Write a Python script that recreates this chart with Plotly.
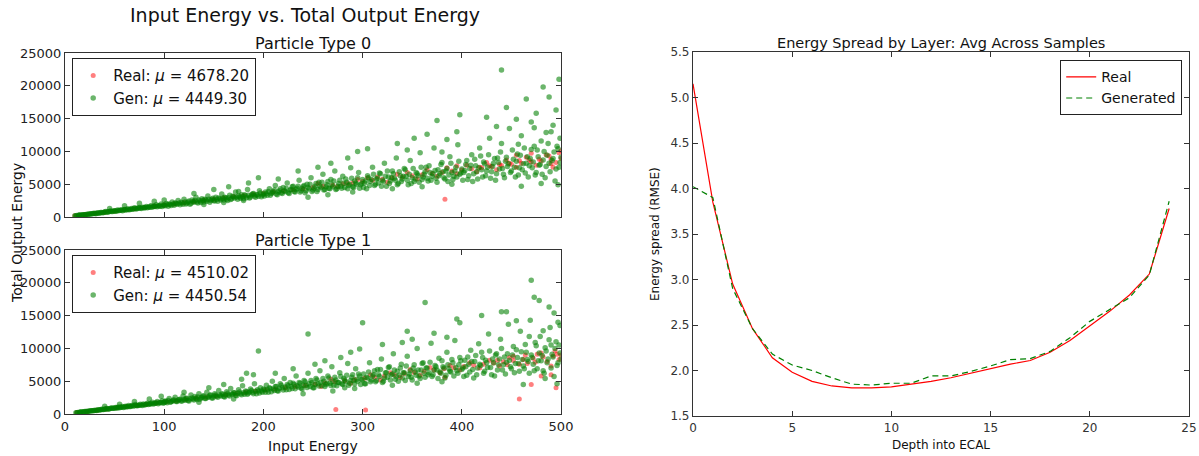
import plotly.graph_objects as go

# ---------------- data ----------------
real0_pts = [(10,180),(20,360),(30,540),(40,720),(50,900),(60,1090),(70,1270),(80,1450),(90,1640),(100,1820),
(110,2000),(120,2180),(130,2350),(140,2540),(150,2700),(160,2900),(170,3070),(180,3250),(190,3420),(200,3600),
(210,3800),(220,3950),(230,4150),(240,4300),(250,4500),(260,4700),(270,4850),(280,5050),(290,5200),(300,5400),
(310,5600),(320,5750),(330,5950),(340,6100),(350,6300),(360,6450),(370,6650),(380,6800),(390,7000),(400,7150),
(410,7350),(420,7500),(430,7700),(440,7850),(450,8050),(460,8200),(470,8400),(480,8550),(490,8750),(500,8900),
(255,5100),(275,4600),(305,6000),(325,5300),(345,6800),(355,5800),(365,7200),(375,6200),(385,7500),(395,6600),
(405,7900),(415,6900),(425,8300),(435,7200),(445,8700),(455,7600),(465,9100),(475,7900),(485,9500),(495,8300),
(498,9800),(492,7600),(488,9300),(478,8800),(468,8700),(458,8600),(448,8200),(438,8000),(428,7800),(418,7600),
(383,2700),(395,7800),(455,9400),(470,9700),(500,10100),(490,8100),(335,6500),(315,6100),(295,5700),(285,5100)]

gen0_pts = [(10,180),(12,230),(14,250),(15,290),(17,300),(18,340),(20,360),(22,410),(23,390),(25,470),(27,480),
(28,520),(30,560),(31,510),(33,640),(35,620),(36,700),(38,660),(40,750),(41,820),(43,760),(45,830),(46,900),
(48,850),(50,960),(52,880),(53,1050),(55,990),(57,1100),(58,950),(60,1150),(62,1080),(63,1250),(65,1120),
(67,1300),(68,1180),(70,1400),(72,1230),(73,1320),(75,1450),(77,1280),(78,1500),(80,1380),(82,1600),(83,1420),
(85,1520),(87,1750),(88,1480),(90,1620),(92,1850),(93,1550),(95,1700),(97,1980),(98,1600),(100,1780),
(45,1300),(60,1700),(75,2100),(90,2400),(100,2600),
(102,2050),(104,1650),(106,1900),(108,2300),(110,1800),(112,2050),(114,2500),(116,1850),(118,2150),(120,2700),
(122,2000),(124,2300),(126,1950),(128,2600),(130,2250),(132,3000),(134,2150),(136,2450),(138,2800),(140,2300),
(142,2600),(144,3200),(146,2250),(148,2700),(150,2500),(152,3000),(154,2400),(156,2800),(158,3500),(160,2600),
(162,2950),(164,2500),(166,3300),(168,2800),(170,3100),(172,3800),(174,2700),(176,3050),(178,3400),(180,2800),
(182,3250),(184,4200),(186,2900),(188,3350),(190,3600),(192,3000),(194,3400),(196,4000),(198,3100),(200,3500),
(130,3600),(150,4200),(165,4600),(185,5200),(195,6000),(175,3900),(140,1900),(160,2200),(180,2500),
(202,3800),(204,3300),(206,4300),(208,3600),(210,3900),(212,4800),(214,3400),(216,4000),(218,3700),(220,4500),
(222,3900),(224,5200),(226,3600),(228,4200),(230,4700),(232,3800),(234,4400),(236,5600),(238,4000),(240,4600),
(242,3700),(244,5000),(246,4300),(248,6000),(250,4100),(252,4700),(254,3900),(256,5300),(258,4500),(260,6500),
(262,4200),(264,4900),(266,4400),(268,5700),(270,4600),(272,7000),(274,4300),(276,5100),(278,4700),(280,6200),
(282,4500),(284,5300),(286,4800),(288,7500),(290,4600),(292,5500),(294,5000),(296,6800),(298,4900),(300,5700),
(215,5800),(235,7000),(255,7600),(268,8200),(285,9000),(295,10000),(305,10400),(245,3000),(265,3400),(290,3800),
(302,5200),(304,4300),(306,6000),(308,5400),(310,7600),(312,4800),(314,5800),(316,5200),(318,6600),(320,5600),
(322,8200),(324,4700),(326,6100),(328,5500),(330,7000),(332,5900),(334,9000),(336,5100),(338,6300),(340,5800),
(342,7400),(344,6200),(346,4900),(348,8600),(350,6000),(352,5400),(354,6800),(356,6300),(358,9800),(360,5700),
(362,6500),(364,7600),(366,5500),(368,6800),(370,6200),(372,10500),(374,5900),(376,7200),(378,6600),(380,8300),
(382,6000),(384,7000),(386,5400),(388,9200),(390,6800),(392,6200),(394,7600),(396,11000),(398,6500),(400,7300),
(335,11200),(352,12000),(365,12600),(375,14700),(385,11800),(395,13000),(345,10200),(330,4300),(360,4600),
(390,5000),(380,9900),(398,15600),
(402,6800),(404,8000),(406,5700),(408,7400),(410,9500),(412,6600),(414,7800),(416,5800),(418,10500),(420,7200),
(422,8400),(424,6300),(426,7600),(428,12000),(430,6900),(432,8200),(434,5600),(436,9000),(438,7300),(440,11200),
(442,6500),(444,8500),(446,7700),(448,13500),(450,7000),(452,8800),(454,6100),(456,9600),(458,7500),(460,12400),
(462,8100),(464,6700),(466,9200),(468,7800),(470,14500),(472,8400),(474,6400),(476,10200),(478,7900),(480,11600),
(482,8700),(484,6000),(486,9400),(488,8200),(490,13000),(492,8900),(494,5500),(496,10800),(498,7600),(500,9100),
(440,22400),(425,15200),(445,16700),(455,14900),(465,18000),(475,15800),(482,19800),(488,18300),(492,14000),
(495,16300),(498,21000),(435,13800),(460,4700),(480,5100),(497,4900),(470,10300),(485,12900),(499,12000),
(473,13600),(457,11100)]

gen0_core = [(11,170),(14,270),(16,260),(19,350),(21,350),(24,440),(26,450),(29,540),(32,560),(34,590),(37,680),
(39,700),(42,740),(44,810),(47,820),(49,900),(51,920),(54,980),(56,1040),(59,1060),(61,1100),(64,1160),(66,1200),
(69,1230),(71,1280),(74,1360),(76,1340),(79,1440),(81,1460),(84,1540),(86,1500),(89,1640),(91,1600),(94,1720),
(96,1650),(99,1820),
(101,1700),(103,1900),(105,2000),(107,1750),(109,2000),(111,2150),(113,1950),(115,2100),(117,2250),(119,1950),
(121,2300),(123,2150),(125,2450),(127,2100),(129,2350),(131,2500),(133,2300),(135,2600),(137,2200),(139,2550),
(141,2700),(143,2400),(145,2700),(147,2500),(149,2850),(151,2450),(153,2700),(155,2900),(157,2600),(159,2850),
(161,3000),(163,2700),(165,2950),(167,2650),(169,3150),(171,2900),(173,3050),(175,3200),(177,2850),(179,3100),
(181,3400),(183,2950),(185,3300),(187,3050),(189,3500),(191,3200),(193,3400),(195,3150),(197,3650),(199,3350),
(201,3200),(203,3600),(205,3900),(207,3300),(209,3700),(211,4100),(213,3500),(215,3800),(217,4300),(219,3600),
(221,4000),(223,4400),(225,3700),(227,4100),(229,4600),(231,3900),(233,4200),(235,4700),(237,3800),(239,4300),
(241,4800),(243,4000),(245,4500),(247,5000),(249,3900),(251,4400),(253,5100),(255,4200),(257,4700),(259,5300),
(261,4100),(263,4600),(265,5400),(267,4300),(269,4900),(271,5500),(273,4200),(275,4700),(277,5600),(279,4400),
(281,5100),(283,5800),(285,4300),(287,5000),(289,5900),(291,4500),(293,5200),(295,6000),(297,4400),(299,5100),
(301,4500),(303,5500),(305,6300),(307,4800),(309,5700),(311,6500),(313,5000),(315,5900),(317,6700),(319,4700),
(321,5400),(323,6200),(325,7000),(327,5100),(329,6000),(331,6600),(333,5600),(335,4900),(337,6900),(339,5400),
(341,6200),(343,7200),(345,5600),(347,6500),(349,5100),(351,7400),(353,5800),(355,6600),(357,5300),(359,7600),
(361,6100),(363,6900),(365,5900),(367,7800),(369,5600),(371,6600),(373,7100),(375,5300),(377,6300),(379,8000),
(381,6900),(383,5800),(385,7400),(387,6400),(389,8200),(391,5700),(393,7000),(395,6100),(397,8500),(399,6700),
(401,5600),(403,7100),(405,8600),(407,6300),(409,7900),(411,5400),(413,8800),(415,6900),(417,7500),(419,9300),
(421,6100),(423,8100),(425,7000),(427,9500),(429,5900),(431,7700),(433,8900),(435,6600),(437,8300),(439,9900),
(441,7400),(443,6000),(445,9100),(447,8100),(449,6800),(451,10200),(453,7600),(455,8500),(457,6400),(459,9400),
(461,7200),(463,10500),(465,8200),(467,6100),(469,8900),(471,7500),(473,10800),(475,6800),(477,9200),(479,8000),
(481,6500),(483,10000),(485,7700),(487,11200),(489,6900),(491,8600),(493,9900),(495,7300),(497,10400),(499,8300)]

real1_pts = [(12,210),(22,400),(32,580),(42,760),(52,940),(62,1130),(72,1300),(82,1480),(92,1670),(102,1850),
(112,2030),(122,2200),(132,2390),(142,2560),(152,2740),(162,2920),(172,3100),(182,3280),(192,3450),(202,3650),
(212,3830),(222,4000),(232,4180),(242,4360),(252,4540),(262,4720),(272,4900),(282,5080),(292,5260),(302,5440),
(312,5620),(322,5800),(332,5980),(342,6160),(352,6340),(362,6520),(372,6700),(382,6880),(392,7060),(402,7240),
(412,7420),(422,7600),(432,7780),(442,7960),(452,8140),(462,8320),(472,8500),(482,8680),(492,8860),(500,9000),
(258,4200),(268,5300),(288,4700),(308,6000),(318,5200),(328,6300),(338,5600),(348,6800),(358,5900),(368,7100),
(378,6300),(388,7400),(398,6700),(408,7800),(418,7000),(428,8200),(438,7300),(448,8600),(452,8800),(458,7600),
(464,9000),(474,7900),(480,9300),(486,8000),(494,9600),(498,8300),(496,9100),(490,7300),(476,9100),(466,7700),
(446,7500),(436,8200),(273,700),(303,600),(458,2300),(495,4000),(470,4500),(480,5800),(383,5600),(490,6000)]

gen1_pts = [(11,200),(13,240),(15,270),(16,310),(18,320),(19,360),(21,380),(23,430),(24,410),(26,490),(28,500),
(29,540),(31,580),(32,530),(34,660),(36,640),(37,720),(39,690),(41,780),(42,840),(44,780),(46,860),(47,930),
(49,880),(51,990),(53,910),(54,1080),(56,1010),(58,1130),(59,980),(61,1180),(63,1110),(64,1280),(66,1150),
(68,1330),(69,1210),(71,1430),(73,1260),(74,1350),(76,1480),(78,1310),(79,1530),(81,1410),(83,1640),(84,1450),
(86,1560),(88,1790),(89,1510),(91,1660),(93,1890),(94,1580),(96,1740),(98,2020),(99,1630),(100,1820),
(40,1200),(55,1500),(70,1900),(85,2300),(97,2700),
(101,2000),(103,1700),(105,2350),(107,1850),(109,2100),(111,2550),(113,1900),(115,2200),(117,2000),(119,2750),
(121,2100),(123,2400),(125,2000),(127,2900),(129,2300),(131,2650),(133,2200),(135,3100),(137,2450),(139,2750),
(141,2350),(143,3300),(145,2600),(147,2900),(149,2450),(151,3100),(153,2700),(155,3600),(157,2750),(159,3050),
(161,2600),(163,3400),(165,2900),(167,3900),(169,3000),(171,3250),(173,2800),(175,3700),(177,3100),(179,4300),
(181,3000),(183,3400),(185,3200),(187,3800),(189,3300),(191,4600),(193,3100),(195,3500),(197,4000),(199,3300),
(120,3300),(145,4000),(160,4500),(178,5300),(183,6200),(190,6000),(195,9600),(135,1800),(170,2300),
(201,3700),(203,4400),(205,3300),(207,3900),(209,5000),(211,3600),(213,4200),(215,3500),(217,4600),(219,4000),
(221,5400),(223,3700),(225,4300),(227,4800),(229,3900),(231,4500),(233,5800),(235,4100),(237,4700),(239,3800),
(241,5100),(243,4400),(245,6200),(247,4200),(249,4800),(251,4000),(253,5400),(255,4600),(257,6600),(259,4300),
(261,5000),(263,4500),(265,5800),(267,4700),(269,7200),(271,4400),(273,5200),(275,4800),(277,6300),(279,4600),
(281,5400),(283,4900),(285,7700),(287,4700),(289,5600),(291,5100),(293,6900),(295,5000),(297,5800),(299,5300),
(212,6200),(230,6900),(245,12200),(252,7600),(262,8100),(278,8600),(288,9400),(297,9900),(300,13900),(240,3100),
(270,3500),(292,3900),(282,4000),
(301,6100),(303,4600),(305,5500),(307,7800),(309,5200),(311,6000),(313,4900),(315,6800),(317,5700),(319,8400),
(321,5000),(323,6300),(325,5600),(327,7200),(329,6000),(331,9200),(333,5300),(335,6500),(337,5900),(339,7600),
(341,6300),(343,5100),(345,8800),(347,6100),(349,5600),(351,7000),(353,6400),(355,10000),(357,5800),(359,6700),
(361,7800),(363,5600),(365,7000),(367,6300),(369,10800),(371,6000),(373,7400),(375,6700),(377,8500),(379,6200),
(381,7200),(383,5500),(385,9400),(387,6900),(389,6400),(391,7800),(393,11200),(395,6600),(397,7500),(399,8100),
(320,10600),(345,12600),(350,11400),(363,17000),(372,12300),(385,11700),(395,14500),(398,13900),(330,4400),
(355,4700),(380,4900),(340,10900),
(401,7000),(403,8200),(405,5900),(407,7600),(409,9700),(411,6800),(413,8000),(415,6000),(417,10700),(419,7400),
(421,8600),(423,6500),(425,7800),(427,12200),(429,7100),(431,8400),(433,5800),(435,9200),(437,7500),(439,11400),
(441,6700),(443,8700),(445,7900),(447,13700),(449,7200),(451,9000),(453,6300),(455,9800),(457,7700),(459,12600),
(461,8300),(463,6900),(465,9400),(467,8000),(469,14300),(471,8600),(473,6600),(475,10400),(477,8100),(479,11800),
(481,8900),(483,6200),(485,9600),(487,8400),(489,13200),(491,9100),(493,5700),(495,11000),(497,7800),(499,9300),
(420,15000),(440,15600),(445,15600),(455,14200),(470,20400),(473,17800),(478,17300),(488,16300),(493,15400),
(497,14000),(499,13500),(462,4500),(484,5400),(496,4600),(468,11800),(482,12700),(490,10500)]

gen1_core = [(12,200),(15,260),(17,290),(20,370),(22,380),(25,460),(27,490),(30,520),(33,600),(35,610),(38,690),
(40,720),(43,770),(45,790),(48,860),(50,880),(52,950),(55,960),(57,1020),(60,1080),(62,1120),(65,1140),(67,1220),
(70,1250),(72,1300),(75,1330),(77,1390),(80,1420),(82,1500),(85,1530),(87,1570),(90,1600),(92,1680),(95,1700),
(97,1740),(100,1760),
(102,1850),(104,2050),(106,1800),(108,1950),(110,2150),(112,1900),(114,2100),(116,2250),(118,2000),(120,2200),
(122,2350),(124,2050),(126,2300),(128,2450),(130,2150),(132,2400),(134,2600),(136,2250),(138,2500),(140,2750),
(142,2350),(144,2600),(146,2850),(148,2450),(150,2750),(152,2900),(154,2550),(156,2850),(158,3050),(160,2650),
(162,2900),(164,3150),(166,2750),(168,3050),(170,3250),(172,2850),(174,3150),(176,3350),(178,2950),(180,3250),
(182,3500),(184,3000),(186,3350),(188,3600),(190,3100),(192,3450),(194,3700),(196,3200),(198,3500),(200,3800),
(202,3300),(204,3700),(206,4000),(208,3400),(210,3800),(212,4200),(214,3550),(216,3900),(218,4400),(220,3650),
(222,4100),(224,4500),(226,3750),(228,4200),(230,4700),(232,3850),(234,4300),(236,4800),(238,3950),(240,4400),
(242,4900),(244,4050),(246,4600),(248,5100),(250,4000),(252,4500),(254,5200),(256,4250),(258,4800),(260,5400),
(262,4200),(264,4700),(266,5500),(268,4350),(270,5000),(272,5600),(274,4300),(276,4800),(278,5700),(280,4500),
(282,5200),(284,5900),(286,4400),(288,5100),(290,6000),(292,4600),(294,5300),(296,6100),(298,4500),(300,5200),
(302,4600),(304,5600),(306,6400),(308,4900),(310,5800),(312,6600),(314,5100),(316,6000),(318,6800),(320,4800),
(322,5500),(324,6300),(326,7100),(328,5200),(330,6100),(332,6700),(334,5700),(336,5000),(338,7000),(340,5500),
(342,6300),(344,7300),(346,5700),(348,6600),(350,5200),(352,7500),(354,5900),(356,6700),(358,5400),(360,7700),
(362,6200),(364,7000),(366,6000),(368,7900),(370,5700),(372,6700),(374,7200),(376,5400),(378,6400),(380,8100),
(382,7000),(384,5900),(386,7500),(388,6500),(390,8300),(392,5800),(394,7100),(396,6200),(398,8600),(400,6800),
(402,5700),(404,7200),(406,8700),(408,6400),(410,8000),(412,5500),(414,8900),(416,7000),(418,7600),(420,9400),
(422,6200),(424,8200),(426,7100),(428,9600),(430,6000),(432,7800),(434,9000),(436,6700),(438,8400),(440,10000),
(442,7500),(444,6100),(446,9200),(448,8200),(450,6900),(452,10300),(454,7700),(456,8600),(458,6500),(460,9500),
(462,7300),(464,10600),(466,8300),(468,6200),(470,9000),(472,7600),(474,10900),(476,6900),(478,9300),(480,8100),
(482,6600),(484,10100),(486,7800),(488,11300),(490,7000),(492,8700),(494,10000),(496,7400),(498,10500),(500,8400)]

real0_mu = "4678.20"
gen0_mu = "4449.30"
real1_mu = "4510.02"
gen1_mu = "4450.54"

layers = list(range(25))
spread_real = [5.15, 3.85, 2.95, 2.46, 2.14, 1.98, 1.88, 1.83, 1.81, 1.81, 1.82, 1.85, 1.88, 1.92,
               1.97, 2.02, 2.07, 2.11, 2.20, 2.33, 2.49, 2.65, 2.83, 3.06, 3.78]
spread_gen = [4.02, 3.90, 2.90, 2.46, 2.18, 2.06, 2.00, 1.92, 1.85, 1.84, 1.86, 1.86, 1.94, 1.94,
              1.99, 2.05, 2.12, 2.13, 2.21, 2.36, 2.54, 2.67, 2.80, 3.05, 3.86]

energy_ticks = [0, 100, 200, 300, 400, 500]
output_ticks = [0, 5000, 10000, 15000, 20000, 25000]
depth_ticks = [0, 5, 10, 15, 20, 25]
spread_ticks = [1.5, 2.0, 2.5, 3.0, 3.5, 4.0, 4.5, 5.0, 5.5]

# ---------------- figure ----------------
W, H = 1199, 456
FONT = "DejaVu Sans"
RED = "rgb(255,0,0)"
GREEN = "rgb(0,128,0)"

def unzip(pts):
    return [p[0] for p in pts], [p[1] for p in pts]

fig = go.Figure()

def add_scatter(pts, name, color, xa, ya, leg, opacity, size):
    x, y = unzip(pts)
    fig.add_trace(go.Scatter(
        x=x, y=y, mode="markers", name=name, xaxis=xa, yaxis=ya, legend=leg,
        marker=dict(color=color, size=size, opacity=opacity, line=dict(width=0)),
    ))

add_scatter(real0_pts, f"Real: <i>μ</i> = {real0_mu}", RED, "x", "y", "legend", 0.5, 5)
add_scatter(gen0_pts + gen0_core, f"Gen: <i>μ</i> = {gen0_mu}", GREEN, "x", "y", "legend", 0.58, 5.5)
add_scatter(real1_pts, f"Real: <i>μ</i> = {real1_mu}", RED, "x2", "y2", "legend2", 0.5, 5)
add_scatter(gen1_pts + gen1_core, f"Gen: <i>μ</i> = {gen1_mu}", GREEN, "x2", "y2", "legend2", 0.58, 5.5)

fig.add_trace(go.Scatter(x=layers, y=spread_real, mode="lines", name="Real",
                         line=dict(color=RED, width=1.2), xaxis="x3", yaxis="y3", legend="legend3"))
fig.add_trace(go.Scatter(x=layers, y=spread_gen, mode="lines", name="Generated",
                         line=dict(color=GREEN, width=1.2, dash="6px,4px"), xaxis="x3", yaxis="y3",
                         legend="legend3"))

def px_x(p):
    return p / W

def px_y(p):
    return 1 - p / H

ax_common = dict(showline=True, linecolor="#333", linewidth=1.2, mirror="ticks", ticks="inside",
                 ticklen=5, tickcolor="#333", showgrid=False, zeroline=False,
                 tickfont=dict(family=FONT, size=13, color="#222"))
ax_right = {**ax_common, "tickfont": dict(family=FONT, size=12, color="#333")}

left_dom = [px_x(65), px_x(561)]
fig.update_layout(
    width=W, height=H, margin=dict(l=0, r=0, t=0, b=0, autoexpand=False),
    paper_bgcolor="white", plot_bgcolor="white", font=dict(family=FONT, color="#222"),
    xaxis=dict(domain=left_dom, anchor="y", range=[0, 500], tickvals=energy_ticks,
               showticklabels=False, **ax_common),
    yaxis=dict(domain=[px_y(217), px_y(53)], anchor="x", range=[0, 25000], tickvals=output_ticks,
               tickformat="d", **ax_common),
    xaxis2=dict(domain=left_dom, anchor="y2", range=[0, 500], tickvals=energy_ticks, **ax_common),
    yaxis2=dict(domain=[px_y(414), px_y(250)], anchor="x2", range=[0, 25000], tickvals=output_ticks,
                tickformat="d", **ax_common),
    xaxis3=dict(domain=[px_x(693), px_x(1189)], anchor="y3", range=[0, 25], tickvals=depth_ticks,
                **ax_right),
    yaxis3=dict(domain=[px_y(416), px_y(52)], anchor="x3", range=[1.5, 5.5], tickvals=spread_ticks,
                tickformat=".1f", **ax_right),
    legend=dict(x=px_x(72), y=px_y(58), xanchor="left", yanchor="top",
                bgcolor="white", bordercolor="#222", borderwidth=1.2,
                font=dict(family=FONT, size=15, color="#111")),
    legend2=dict(x=px_x(72), y=px_y(255), xanchor="left", yanchor="top",
                 bgcolor="white", bordercolor="#222", borderwidth=1.2,
                 font=dict(family=FONT, size=15, color="#111")),
    legend3=dict(x=px_x(1182), y=px_y(60), xanchor="right", yanchor="top",
                 bgcolor="white", bordercolor="#222", borderwidth=1.2,
                 font=dict(family=FONT, size=14, color="#111")),
    showlegend=True,
)

def ann(text, x, y, size, angle=0):
    fig.add_annotation(text=text, x=px_x(x), y=px_y(y), xref="paper", yref="paper",
                       showarrow=False, textangle=angle, xanchor="center", yanchor="middle",
                       font=dict(family=FONT, size=size, color="#111"))

ann("Input Energy vs. Total Output Energy", 305, 15, 19)
ann("Particle Type 0", 313, 43, 16)
ann("Particle Type 1", 313, 240, 16)
ann("Input Energy", 313, 446, 14)
ann("Total Output Energy", 17, 233, 14, -90)
ann("Energy Spread by Layer: Avg Across Samples", 941, 43, 14.5)
ann("Depth into ECAL", 941, 445, 12)
ann("Energy spread (RMSE)", 655, 234, 12, -90)

fig.write_html("out.html", config={"displayModeBar": False},
               post_script="document.body.style.margin='0';")
